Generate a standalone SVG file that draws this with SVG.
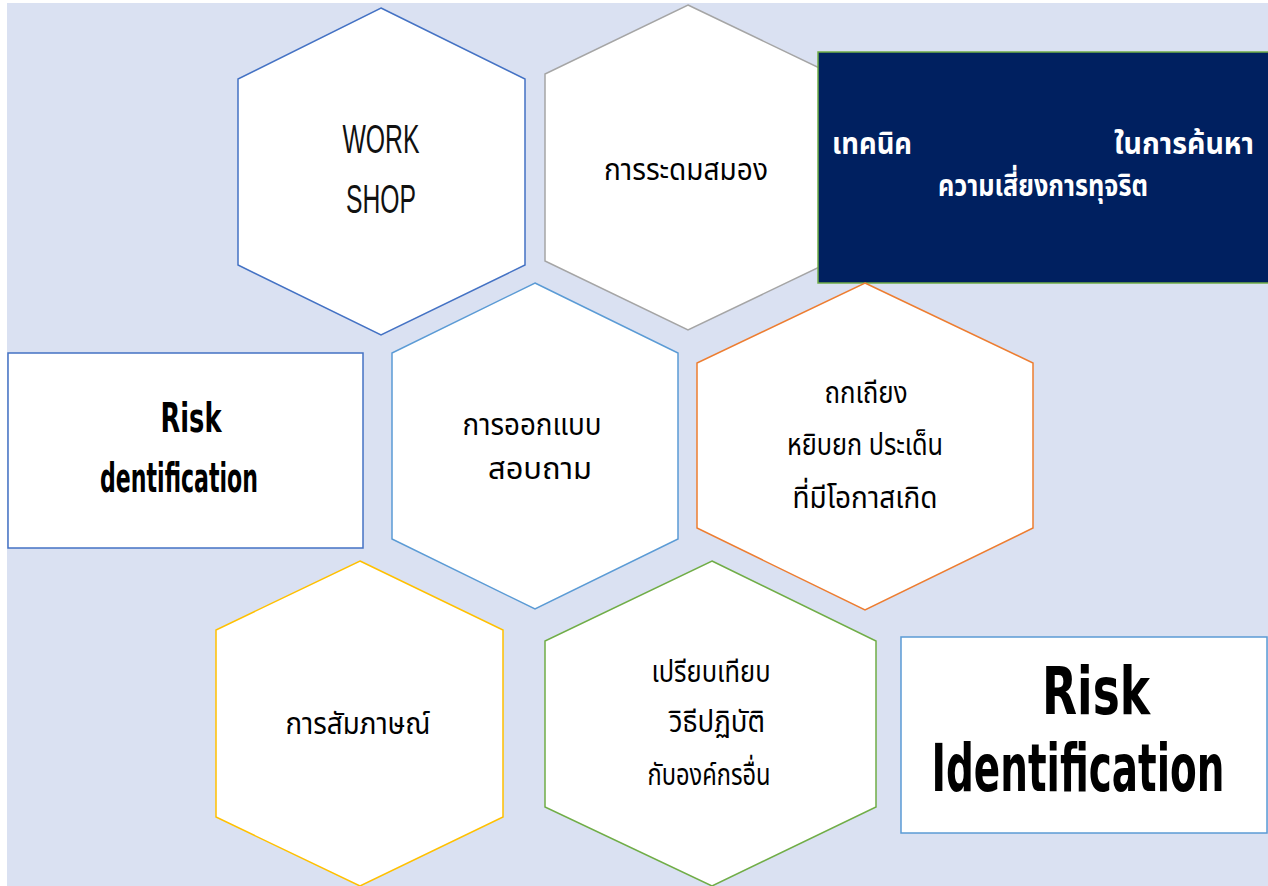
<svg xmlns="http://www.w3.org/2000/svg" width="1268" height="886" viewBox="0 0 1268 886">
<style>
.hex{fill:#ffffff;stroke-width:1.5}
.th{font-family:"Noto Sans Thai","Noto Sans Thai UI","Tahoma","DejaVu Sans","Noto Sans",sans-serif;font-size:30px;fill:#000}
.en{font-family:"Liberation Sans",Arial,sans-serif;font-size:40px;fill:#111}
.bold{font-family:"DejaVu Sans","Verdana",sans-serif;font-weight:bold;fill:#000}
.wt{fill:#fff;font-weight:bold}
</style>
<rect x="0" y="0" width="1268" height="886" fill="#ffffff"/>
<rect x="7" y="3" width="1261" height="883" fill="#dae1f2"/>

<g id="hex-workshop">
<polygon class="hex" stroke="#4472c4" points="381,8 525,79 525,265 381,335 238,265 238,79"/>
<text class="en" x="381" y="153" text-anchor="middle" textLength="77" lengthAdjust="spacingAndGlyphs">WORK</text>
<text class="en" x="381" y="213" text-anchor="middle" textLength="70" lengthAdjust="spacingAndGlyphs">SHOP</text>
</g>

<g id="hex-brainstorm">
<polygon class="hex" stroke="#a5a5a5" points="688,5 832,74 832,261 688,330 545,261 545,74"/>
<text class="th" x="686" y="180" text-anchor="middle" textLength="164" lengthAdjust="spacingAndGlyphs">การระดมสมอง</text>
</g>

<g id="box-technique">
<rect x="818" y="52" width="452" height="231" fill="#002060" stroke="#70ad47" stroke-width="1.5"/>
<text class="th wt" x="832" y="154" textLength="80" lengthAdjust="spacingAndGlyphs">เทคนิค</text>
<text class="th wt" x="1114" y="154" textLength="140" lengthAdjust="spacingAndGlyphs">ในการค้นหา</text>
<text class="th wt" x="938" y="196" textLength="210" lengthAdjust="spacingAndGlyphs">ความเสี่ยงการทุจริต</text>
</g>

<g id="box-risk-small">
<rect x="8" y="353" width="355" height="195" fill="#ffffff" stroke="#4472c4" stroke-width="1.5"/>
<text class="bold" x="191" y="432" font-size="40" text-anchor="middle" textLength="61" lengthAdjust="spacingAndGlyphs">Risk</text>
<text class="bold" x="179" y="492" font-size="40" text-anchor="middle" textLength="158" lengthAdjust="spacingAndGlyphs">dentification</text>
</g>

<g id="hex-questionnaire">
<polygon class="hex" stroke="#5b9bd5" points="535,283 678,353 678,539 535,609 392,539 392,353"/>
<text class="th" x="532" y="435" text-anchor="middle" textLength="139" lengthAdjust="spacingAndGlyphs">การออกแบบ</text>
<text class="th" x="540" y="479" text-anchor="middle" textLength="104" lengthAdjust="spacingAndGlyphs">สอบถาม</text>
</g>

<g id="hex-debate">
<polygon class="hex" stroke="#ed7d31" points="865,283 1033,363 1033,528 865,610 697,528 697,363"/>
<text class="th" x="866" y="403" text-anchor="middle" textLength="83" lengthAdjust="spacingAndGlyphs">ถกเถียง</text>
<text class="th" x="865" y="455" text-anchor="middle" textLength="156" lengthAdjust="spacingAndGlyphs">หยิบยก ประเด็น</text>
<text class="th" x="865" y="508" text-anchor="middle" textLength="145" lengthAdjust="spacingAndGlyphs">ที่มีโอกาสเกิด</text>
</g>

<g id="hex-interview">
<polygon class="hex" stroke="#ffc000" points="360,561 503,630 503,817 360,886 216,817 216,630"/>
<text class="th" x="358" y="734" text-anchor="middle" textLength="145" lengthAdjust="spacingAndGlyphs">การสัมภาษณ์</text>
</g>

<g id="hex-benchmark">
<polygon class="hex" stroke="#70ad47" points="712,561 876,641 876,807 712,886 545,807 545,641"/>
<text class="th" x="711" y="682" text-anchor="middle" textLength="119" lengthAdjust="spacingAndGlyphs">เปรียบเทียบ</text>
<text class="th" x="717" y="732" text-anchor="middle" textLength="96" lengthAdjust="spacingAndGlyphs">วิธีปฏิบัติ</text>
<text class="th" x="709" y="785" text-anchor="middle" textLength="123" lengthAdjust="spacingAndGlyphs">กับองค์กรอื่น</text>
</g>

<g id="box-risk-large">
<rect x="901" y="637" width="366" height="196" fill="#ffffff" stroke="#5b9bd5" stroke-width="1.5"/>
<text class="bold" font-size="66" text-anchor="middle" transform="translate(1096,714) scale(0.69,1)">Risk</text>
<text class="bold" font-size="66" text-anchor="middle" transform="translate(1078,791) scale(0.59,1)">Identification</text>
</g>

<g id="connectors"></g>
</svg>
